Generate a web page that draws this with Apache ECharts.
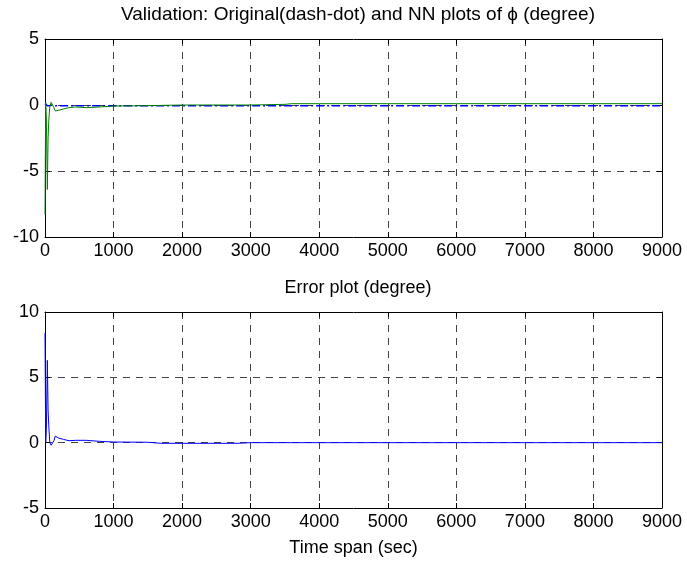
<!DOCTYPE html>
<html><head><meta charset="utf-8">
<script src="https://cdn.jsdelivr.net/npm/echarts@6/dist/echarts.min.js"></script>
<style>html,body{margin:0;padding:0;background:#fff}#c{width:687px;height:561px}</style>
</head><body><div id="c"></div>
<script>
// ---- data ----
const timeSec     = [0, 10, 20, 34, 45, 55, 70, 90, 107, 130, 150, 200, 270, 350, 450, 600, 800, 1000, 1500, 1700, 2000, 2800, 3000, 3500, 3600, 4000, 5000, 6000, 7000, 8000, 9000];
const phiOriginal = [0.1, 0.05, 0, -0.05, 0, 0, -0.05, 0, 0, -0.05, -0.05, -0.05, -0.05, -0.05, -0.05, -0.05, -0.05, -0.05, -0.05, -0.05, -0.05, -0.05, -0.05, -0.05, -0.05, -0.05, -0.05, -0.05, -0.05, -0.05, -0.05];
const phiNN       = [-8.3, 0.2, -1.0, -6.4, -2.5, -1.2, -0.1, 0.2, 0.3, -0.2, -0.45, -0.4, -0.3, -0.2, -0.15, -0.2, -0.15, -0.08, -0.05, -0.03, 0, 0, 0, 0.05, 0.1, 0.1, 0.1, 0.1, 0.1, 0.1, 0.1];
const phiError    = [8.4, 0, 1.0, 6.3, 2.5, 1.3, 0, -0.2, -0.33, 0.15, 0.5, 0.35, 0.25, 0.15, 0.18, 0.18, 0.1, 0.05, 0.03, -0.05, -0.05, -0.05, 0, 0, 0, 0, 0, 0, 0, 0, 0];
const xRange      = [0, 9000, 1000];
const topYRange   = [-10, 5, 5];
const botYRange   = [-5, 10, 5];
const titleTop    = 'Validation: Original(dash-dot) and NN plots of \u03D5 (degree)';
const titleBottom = 'Error plot (degree)';
const xLabel      = 'Time span (sec)';

const FONT = '"Liberation Sans", Arial, Helvetica, sans-serif';
const pair = arr => timeSec.map((t, i) => [t, arr[i]]);
const grid = [
  {left: 45, top: 39, width: 617, height: 198},
  {left: 45, top: 312, width: 617, height: 196}
];
const split = {show: true, lineStyle: {type: [7, 6], color: '#444', width: 1}};
const line = {show: true, onZero: false, lineStyle: {color: '#000', width: 1}};
const tick = {show: true, inside: true, length: 5, lineStyle: {color: '#000'}};
const lbl = {color: '#000', fontFamily: FONT, fontSize: 18, formatter: v => String(v)};

function xAxes(gi, withName) {
  return [
    {type: 'value', gridIndex: gi, position: 'bottom', min: xRange[0], max: xRange[1], interval: xRange[2],
     axisLine: line, axisTick: tick, splitLine: split,
     axisLabel: Object.assign({margin: 5}, lbl),
     name: withName ? xLabel : '', nameLocation: 'middle', nameGap: 31,
     nameTextStyle: {color: '#000', fontFamily: FONT, fontSize: 18}},
    {type: 'value', gridIndex: gi, position: 'top', min: xRange[0], max: xRange[1], interval: xRange[2],
     axisLine: line, axisTick: tick, splitLine: {show: false}, axisLabel: {show: false}}
  ];
}
function yAxes(gi, r) {
  return [
    {type: 'value', gridIndex: gi, position: 'left', min: r[0], max: r[1], interval: r[2],
     axisLine: line, axisTick: tick, splitLine: split,
     axisLabel: Object.assign({margin: 6}, lbl)},
    {type: 'value', gridIndex: gi, position: 'right', min: r[0], max: r[1], interval: r[2],
     axisLine: line, axisTick: tick, splitLine: {show: false}, axisLabel: {show: false}}
  ];
}

const chart = echarts.init(document.getElementById('c'), null, {renderer: 'canvas'});
chart.setOption({
  animation: false,
  backgroundColor: '#fff',
  title: [
    {text: titleTop, left: 353, top: 0, textAlign: 'center',
     textStyle: {color: '#000', fontFamily: FONT, fontSize: 19, fontWeight: 'normal'}},
    {text: titleBottom, left: 353, top: 274, textAlign: 'center',
     textStyle: {color: '#000', fontFamily: FONT, fontSize: 18, fontWeight: 'normal'}}
  ],
  grid: grid,
  xAxis: [...xAxes(0, false), ...xAxes(1, true)],
  yAxis: [...yAxes(0, topYRange), ...yAxes(1, botYRange)],
  series: [
    {name: 'Original', type: 'line', xAxisIndex: 0, yAxisIndex: 0, data: pair(phiOriginal),
     showSymbol: false, lineStyle: {color: '#0000ff', width: 1.5, type: [8, 3, 2, 3]}},
    {name: 'NN', type: 'line', xAxisIndex: 0, yAxisIndex: 0, data: pair(phiNN),
     showSymbol: false, lineStyle: {color: '#008000', width: 1}},
    {name: 'Error', type: 'line', xAxisIndex: 2, yAxisIndex: 2, data: pair(phiError),
     showSymbol: false, lineStyle: {color: '#0000ff', width: 1}}
  ]
});
</script>
</body></html>
